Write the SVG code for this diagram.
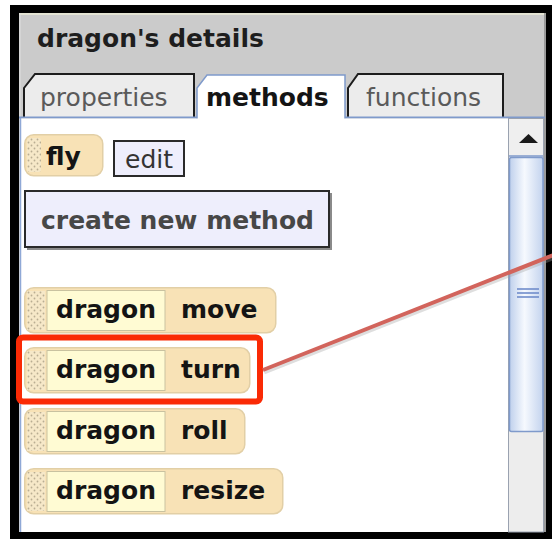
<svg xmlns="http://www.w3.org/2000/svg" width="552" height="539" viewBox="0 0 552 539">
  <defs>
    <style>
      .t { font-family: "DejaVu Sans", "Liberation Sans", sans-serif; font-size: 25px; }
      .b { font-weight: bold; fill: #141414; }
      .tabOff { fill: #ececec; stroke: #1c1c1c; stroke-width: 2; }
      .tabTxt { fill: #5a5a5a; }
      .blk { fill: #f8e2b6; stroke: #e2cfa6; stroke-width: 1.5; }
      .grip { fill: url(#dots); }
      .obj { fill: #fffbd3; stroke: #c9c2a0; stroke-width: 1; }
      .btn { fill: #eeeefc; stroke: #2a2a2a; stroke-width: 2; }
    </style>
    <pattern id="dots" width="6" height="6" patternUnits="userSpaceOnUse">
      <rect width="6" height="6" fill="#f6e8c8"/>
      <circle cx="1.5" cy="1.5" r="0.9" fill="#b9ad92"/>
      <circle cx="4.5" cy="4.5" r="0.9" fill="#b9ad92"/>
    </pattern>
    <linearGradient id="thumb" x1="0" y1="0" x2="1" y2="0">
      <stop offset="0" stop-color="#bfd0ec"/>
      <stop offset="0.45" stop-color="#f6f9fe"/>
      <stop offset="1" stop-color="#c3d3ee"/>
    </linearGradient>
  </defs>

  <g id="frame">
    <rect x="0" y="0" width="552" height="539" fill="#ffffff"/>
    <rect x="10" y="5" width="542" height="534" fill="#000000"/>
    <rect x="19" y="13" width="527" height="519" fill="#cbcbcb"/>
    <line x1="19" y1="14" x2="546" y2="14" stroke="#e4e4d4" stroke-width="2"/>
    <line x1="20" y1="13" x2="20" y2="532" stroke="#e0e0e0" stroke-width="1"/>
    <line x1="545" y1="13" x2="545" y2="532" stroke="#8a8a8a" stroke-width="1.5"/>
    <text class="t b" x="37" y="47" style="fill:#1e1e1e">dragon's details</text>
  </g>

  <g id="tabs">
    <path class="tabOff" d="M24,117 L24,88 L35,74 L194,74 L194,117"/>
    <text class="t tabTxt" x="40" y="106">properties</text>
    <path class="tabOff" d="M348,117 L348,88 L358,74 L503,74 L503,117"/>
    <text class="t tabTxt" x="366" y="106">functions</text>
    <line x1="19" y1="117.5" x2="545" y2="117.5" stroke="#7f9acb" stroke-width="2"/>
    <path d="M197,119 L197,88 L207,75 L345,75 L345,119" fill="#ffffff" stroke="#7f9acb" stroke-width="1.5"/>
    <text class="t b" x="206" y="106">methods</text>
  </g>

  <g id="content">
    <rect x="20" y="118.5" width="488" height="413.5" fill="#ffffff"/>
    <line x1="20.5" y1="118" x2="20.5" y2="532" stroke="#8fa8d6" stroke-width="1.5"/>
    <rect x="198" y="116" width="146" height="4" fill="#ffffff"/>
  </g>

  <g id="scrollbar">
    <rect x="508.5" y="118.5" width="35" height="413.5" fill="#ededed" stroke="#9aa2b0" stroke-width="1"/>
    <rect x="509" y="119" width="34" height="37" fill="#efefef"/>
    <line x1="509" y1="156" x2="543" y2="156" stroke="#7f9acb" stroke-width="1.5"/>
    <polygon points="519,143 538,143 528.5,134" fill="#1a1a1a"/>
    <rect x="509.5" y="157.5" width="33.5" height="274" rx="2" fill="url(#thumb)" stroke="#7f9acb" stroke-width="1.5"/>
    <g stroke="#6f8ccb" stroke-width="1.6">
      <line x1="517" y1="289" x2="539" y2="289"/>
      <line x1="517" y1="293" x2="539" y2="293"/>
      <line x1="517" y1="297" x2="539" y2="297"/>
    </g>
  </g>

  <g id="fly">
    <rect class="blk" x="24.75" y="134.75" width="78" height="41" rx="9"/>
    <rect class="grip" x="27" y="138" width="14" height="34" rx="2"/>
    <text class="t b" x="46" y="165">fly</text>
  </g>

  <g id="edit">
    <rect class="btn" x="114" y="141" width="70" height="35"/>
    <text class="t" x="125" y="168" style="fill:#333">edit</text>
  </g>

  <g id="create-new-method">
    <rect x="27" y="193" width="305" height="57" fill="#8a8a8a"/>
    <rect class="btn" x="25" y="191" width="304" height="56"/>
    <text class="t" x="41" y="229" style="font-weight:bold;fill:#474747">create new method</text>
  </g>

  <g id="dragon-move">
    <rect class="blk" x="24.75" y="287.75" width="251" height="45" rx="9"/>
    <rect class="grip" x="27" y="291" width="18" height="39"/>
    <rect class="obj" x="47" y="290.5" width="118" height="40"/>
    <text class="t b" x="56" y="318">dragon</text>
    <text class="t b" x="181" y="318">move</text>
  </g>

  <g id="dragon-turn">
    <rect class="blk" x="24.75" y="347.75" width="225" height="45" rx="9"/>
    <rect class="grip" x="27" y="351" width="18" height="39"/>
    <rect class="obj" x="47" y="350.5" width="118" height="40"/>
    <text class="t b" x="56" y="378">dragon</text>
    <text class="t b" x="181" y="378">turn</text>
  </g>

  <g id="highlight">
    <rect x="19" y="337.5" width="241" height="64" rx="4" fill="none" stroke="#fa2a05" stroke-width="6"/>
  </g>

  <g id="dragon-roll">
    <rect class="blk" x="24.75" y="408.75" width="220" height="45" rx="9"/>
    <rect class="grip" x="27" y="412" width="18" height="39"/>
    <rect class="obj" x="47" y="411.5" width="118" height="40"/>
    <text class="t b" x="56" y="439">dragon</text>
    <text class="t b" x="181" y="439">roll</text>
  </g>

  <g id="dragon-resize">
    <rect class="blk" x="24.75" y="468.75" width="258" height="45" rx="9"/>
    <rect class="grip" x="27" y="472" width="18" height="39"/>
    <rect class="obj" x="47" y="471.5" width="118" height="40"/>
    <text class="t b" x="56" y="499">dragon</text>
    <text class="t b" x="181" y="499">resize</text>
  </g>

  <g id="connectors">
    <line x1="263" y1="370" x2="556" y2="254" stroke="#a0a0a0" stroke-opacity="0.35" stroke-width="5" transform="translate(1,2)"/>
    <line x1="263" y1="370" x2="556" y2="254" stroke="#d2645c" stroke-width="4"/>
  </g>
</svg>
